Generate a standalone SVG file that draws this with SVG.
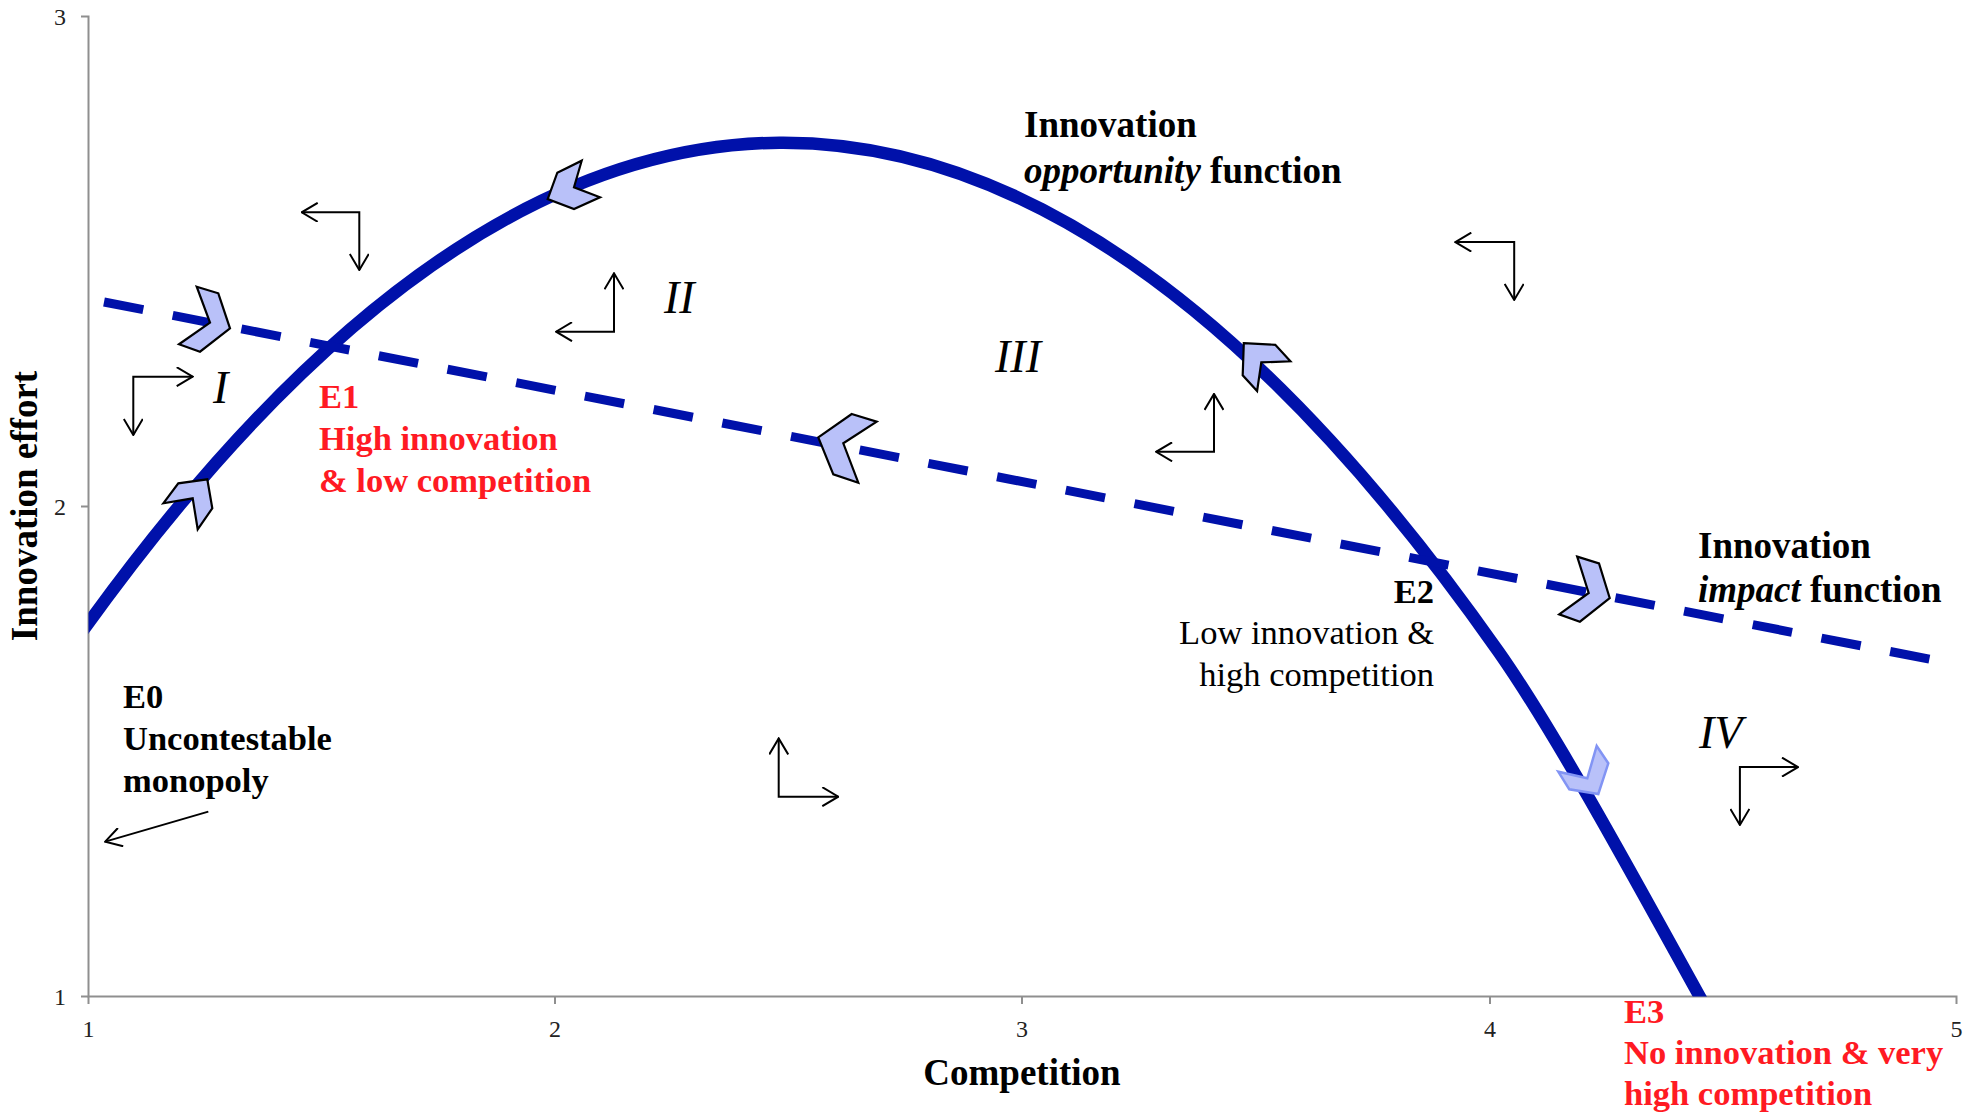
<svg xmlns="http://www.w3.org/2000/svg" width="1983" height="1114" viewBox="0 0 1983 1114">
<style>
.axis{stroke:#8f8f8f;stroke-width:2;fill:none}
.tick{font-family:"Liberation Serif","Times New Roman",serif;font-size:24px;fill:#222}
.title{font-family:"Liberation Serif","Times New Roman",serif;font-size:37px;font-weight:bold;fill:#000}
.fn{font-family:"Liberation Serif","Times New Roman",serif;font-size:37px;font-weight:bold;fill:#000}
.eq{font-family:"Liberation Serif","Times New Roman",serif;font-size:34.5px;font-weight:bold}
.reg{font-family:"Liberation Serif","Times New Roman",serif;font-size:34.5px;font-weight:normal;fill:#000}
.red{fill:#FF1A23}
.blk{fill:#000}
.roman{font-family:"Liberation Serif","Times New Roman",serif;font-size:46px;font-style:italic;fill:#000}
.curve{fill:none;stroke:#0011AA;stroke-width:12.5}
.dash{fill:none;stroke:#0011AA;stroke-width:9;stroke-dasharray:40 30}
.chev{fill:#B9C1F9;stroke:#000;stroke-width:2.2;stroke-linejoin:miter}
.chev2{fill:#B9C1F9;stroke:#8294F4;stroke-width:2.5;stroke-linejoin:miter}
.arr{fill:none;stroke:#000;stroke-width:2;marker-start:url(#ah);marker-end:url(#ah)}
.arr1{fill:none;stroke:#000;stroke-width:2;marker-end:url(#ah)}
</style>
<defs>
<marker id="ah" viewBox="0 0 18 20" refX="17" refY="10" markerWidth="18" markerHeight="20" markerUnits="userSpaceOnUse" orient="auto-start-reverse">
<path d="M1,0.5 L17,10 L1,19.5" fill="none" stroke="#000" stroke-width="2"/>
</marker>
<clipPath id="plot"><rect x="88.5" y="0" width="1895" height="996.5"/></clipPath>
</defs>
<rect x="0" y="0" width="1983" height="1114" fill="#fff"/>

<g id="axes">
<path class="axis" d="M81,16.5 H88.5 V996.5 H1956.5 V1004"/>
<path class="axis" d="M81,506.5 H88.5 M81,996.5 H88.5 M88.5,996.5 V1004 M555,996.5 V1004 M1022,996.5 V1004 M1490,996.5 V1004"/>
<text class="tick" x="66" y="25" text-anchor="end">3</text>
<text class="tick" x="66" y="515" text-anchor="end">2</text>
<text class="tick" x="66" y="1005" text-anchor="end">1</text>
<text class="tick" x="88.5" y="1037" text-anchor="middle">1</text>
<text class="tick" x="555" y="1037" text-anchor="middle">2</text>
<text class="tick" x="1022" y="1037" text-anchor="middle">3</text>
<text class="tick" x="1490" y="1037" text-anchor="middle">4</text>
<text class="tick" x="1956.5" y="1037" text-anchor="middle">5</text>
<text class="title" x="1022" y="1085" text-anchor="middle">Competition</text>
<text class="title" transform="translate(37,506) rotate(-90)" text-anchor="middle">Innovation effort</text>
</g>

<g id="connectors">
<path id="opportunity-curve" class="curve" clip-path="url(#plot)" d="M60,663.2 Q779.5,-372.4 1499,652.4 C1559,737.9 1645,898 1705,1006 L1715,1024"/>
<path id="impact-line" class="dash" d="M104,302 L1931,659.5"/>
<polyline class="arr" points="301.7,212.3 359.3,212.3 359.3,270"/>
<polyline class="arr" points="192.7,376.7 133.3,376.7 133.3,435"/>
<polyline class="arr" points="614,273.3 614,331.7 556,331.7"/>
<polyline class="arr" points="1214,393.9 1214,451.8 1156.1,451.8"/>
<polyline class="arr" points="1455.3,242.1 1514.2,242.1 1514.2,299.9"/>
<polyline class="arr" points="778.7,738.4 778.7,796.7 838.3,796.7"/>
<polyline class="arr" points="1798,767.1 1739.9,767.1 1739.9,824.9"/>
<line class="arr1" x1="208.3" y1="811.6" x2="105.2" y2="841.6"/>
</g>

<g id="chevrons">
<polygon id="chev-dash-1" class="chev" points="196.7,286.7 218.3,293.3 230,328.3 200,351.7 179,344.3 210,322.7"/>
<polygon id="chev-curve-1" class="chev" points="163.3,503.3 178.3,483.3 207.3,479.3 212.3,508.3 197.7,529.3 192.7,498.3"/>
<polygon id="chev-curve-2" class="chev" points="557.3,172.7 581.7,160.7 574,187.3 600,197.3 574,209 547.7,199"/>
<polygon id="chev-dash-2" class="chev" points="851.7,414 876.7,421.7 843.3,443.3 858.3,482.7 833.3,474.3 818.3,437.3"/>
<polygon id="chev-curve-3" class="chev" points="1243.8,343.1 1275.3,344.8 1290.4,361.3 1261.3,362.4 1257.1,391.1 1242.7,375.3"/>
<polygon id="chev-dash-3" class="chev" points="1577.2,556.6 1599,563.5 1609.7,598 1579.9,621.7 1559.2,614.4 1588.7,593"/>
<polygon id="chev-curve-4" class="chev2" points="1596.7,746 1608.3,763.3 1598.3,794 1569.3,789.3 1558.3,771.7 1587.3,778.3"/>
</g>

<g id="label-opportunity">
<text class="fn" x="1024" y="137">Innovation</text>
<text class="fn" x="1024" y="183"><tspan font-style="italic">opportunity</tspan> function</text>
</g>
<g id="label-impact">
<text class="fn" x="1698" y="558">Innovation</text>
<text class="fn" x="1698" y="602"><tspan font-style="italic">impact</tspan> function</text>
</g>
<g id="label-E0">
<text class="eq blk" x="123" y="708">E0</text>
<text class="eq blk" x="123" y="750">Uncontestable</text>
<text class="eq blk" x="123" y="791.5">monopoly</text>
</g>
<g id="label-E1">
<text class="eq red" x="319" y="408">E1</text>
<text class="eq red" x="319" y="449.5">High innovation</text>
<text class="eq red" x="319" y="491.5">&amp; low competition</text>
</g>
<g id="label-E2">
<text class="eq blk" x="1434" y="603" text-anchor="end">E2</text>
<text class="reg" x="1434" y="644" text-anchor="end">Low innovation &amp;</text>
<text class="reg" x="1434" y="686" text-anchor="end">high competition</text>
</g>
<g id="label-E3">
<text class="eq red" x="1624" y="1023">E3</text>
<text class="eq red" x="1624" y="1064">No innovation &amp; very</text>
<text class="eq red" x="1624" y="1105">high competition</text>
</g>
<g id="regions">
<text class="roman" x="213" y="403">I</text>
<text class="roman" x="664" y="313">II</text>
<text class="roman" x="995" y="372">III</text>
<text class="roman" x="1699" y="748">IV</text>
</g>
</svg>
